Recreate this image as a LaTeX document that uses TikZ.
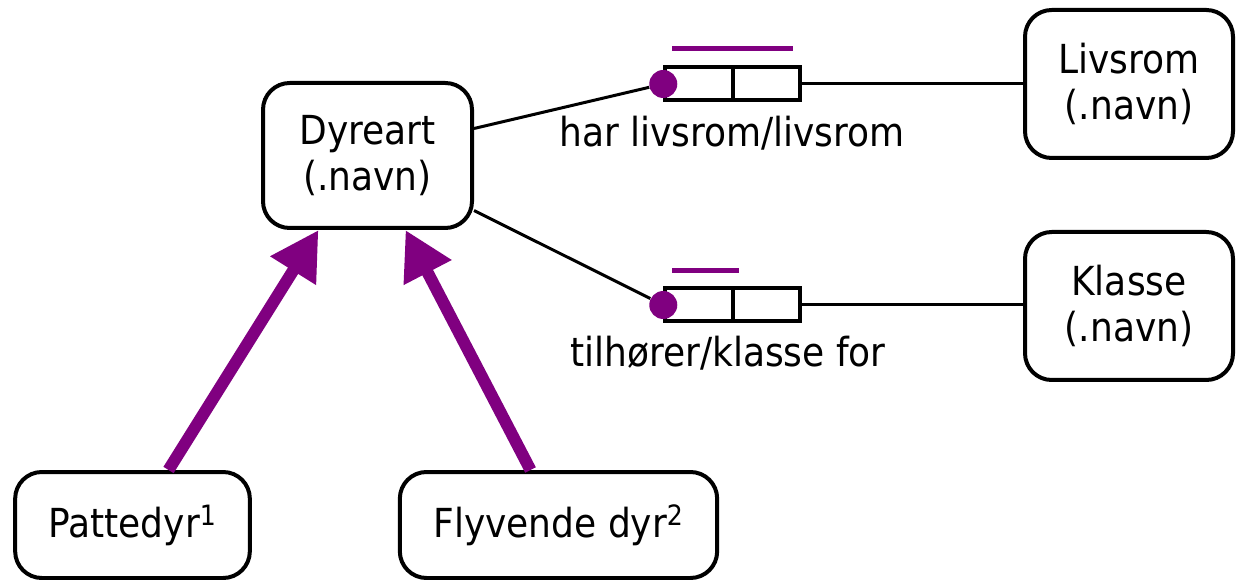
\documentclass[tikz,border=0pt]{standalone}
\usepackage{fontspec}
\setmainfont{DejaVu Sans Condensed}
\usetikzlibrary{arrows.meta,calc}
\definecolor{lilla}{RGB}{128,0,128}
\tikzset{every picture/.style={line width=0.75pt}}

\begin{document}
\begin{tikzpicture}[x=0.75pt,y=0.75pt,yscale=-1,xscale=1,
  objekt/.style={draw, line width=3pt, rounded corners=20pt, align=center, inner sep=0pt, font=\fontsize{30}{35}\selectfont},
  rolle/.style={draw, line width=3pt, minimum width=50.6pt, minimum height=24.75pt, inner sep=0pt},
  kant/.style={line width=2.25pt},
  unik/.style={lilla, line width=3.75pt},
  punkt/.style={circle, fill=lilla, minimum size=21pt, inner sep=0pt},
  arv/.style={lilla, line width=9pt, -{Triangle[length=36pt,width=38pt]}},
  merkelapp/.style={inner sep=0pt, font=\fontsize{30}{35}\selectfont}]
\useasboundingbox (0,0) rectangle (1237,580);

% Object types
\node [objekt, minimum width=156.75pt, minimum height=108.75pt] (dyr) at (367.5,155.5) {Dyreart\\(.navn)};
\node [objekt, minimum width=156pt, minimum height=111pt] (liv) at (1129,84) {Livsrom\\(.navn)};
\node [objekt, minimum width=156pt, minimum height=111pt] (kla) at (1129,306) {Klasse\\(.navn)};
\node [objekt, minimum width=176pt, minimum height=79.5pt] (pat) at (132.5,525) {Pattedyr\textsuperscript{1}};
\node [objekt, minimum width=238pt, minimum height=79.5pt] (fly) at (558.5,525) {Flyvende dyr\textsuperscript{2}};

% Fact type: har livsrom/livsrom
\node [rolle] (r1a) at (699,84) {};
\node [rolle] (r1b) at (766.5,84) {};
\node [punkt] (p1) at (r1a.west) {};
\draw [unik] (672,49) -- (793,49);
\node [merkelapp] (m1) at (732,133) {har livsrom/livsrom};

% Fact type: tilhører/klasse for
\node [rolle] (r2a) at (699,305) {};
\node [rolle] (r2b) at (766.5,305) {};
\node [punkt] (p2) at (r2a.west) {};
\draw [unik] (672,271) -- (739,271);
\node [merkelapp] (m2) at (728,353) {tilhører/klasse for};

% Connectors
\draw [kant] ($(dyr.east)+(0,-27)$) -- (p1);
\draw [kant] (r1b.east) -- (r1b.east -| liv.west);
\draw [kant] ($(dyr.east)+(0,55)$) -- (p2);
\draw [kant] (r2b.east) -- (r2b.east -| kla.west);

% Subtypes
\draw [arv] ($(pat.north)+(36,0)$) -- ($(dyr.south)+(-49,0)$);
\draw [arv] ($(fly.north)+(-28,0)$) -- ($(dyr.south)+(38,0)$);

\end{tikzpicture}
\end{document}
